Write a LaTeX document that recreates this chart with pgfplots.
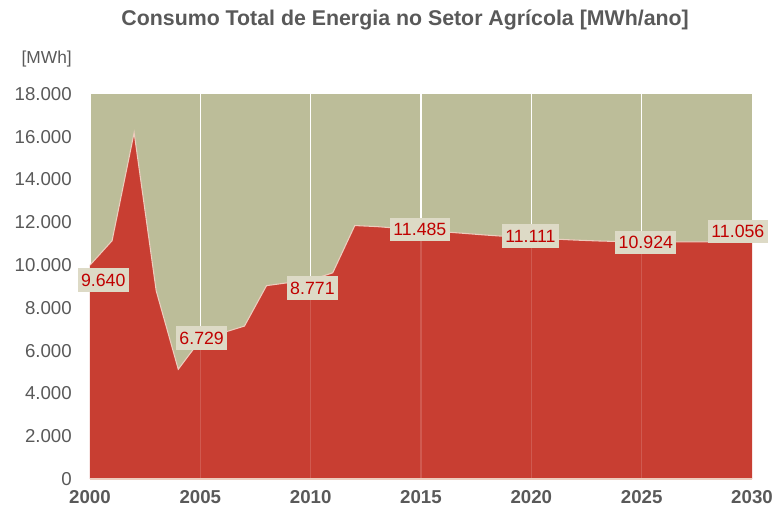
\documentclass[border=0pt]{standalone}
\usepackage{pgfplots}
\pgfplotsset{compat=1.18}
\usepackage{fontspec}
\setmainfont{Liberation Sans}
\definecolor{bgolive}{RGB}{188,189,153}
\definecolor{areared}{RGB}{200,62,50}
\definecolor{lblfill}{RGB}{221,218,198}
\definecolor{lblred}{RGB}{192,0,0}
\definecolor{txtgray}{RGB}{89,89,89}
\definecolor{edgecol}{RGB}{236,205,190}
\begin{document}
\begin{tikzpicture}
\useasboundingbox (-67.5pt,-25.5pt) rectangle (516pt,359.25pt);
\begin{axis}[
  scale only axis, width=496.5pt, height=288.75pt,
  xmin=2000, xmax=2030, ymin=0, ymax=18000,
  scaled y ticks=false, scaled x ticks=false,
  axis background/.style={fill=bgolive},
  axis line style={draw=none},
  major tick length=0pt,
  xtick={2000,2005,2010,2015,2020,2025,2030},
  xticklabels={2000,2005,2010,2015,2020,2025,2030},
  ytick={0,2000,4000,6000,8000,10000,12000,14000,16000,18000},
  yticklabels={0,2.000,4.000,6.000,8.000,10.000,12.000,14.000,16.000,18.000},
  extra x ticks={2000,2005,2010,2015,2020,2025},
  extra x tick labels={},
  extra x tick style={grid=major, major grid style={white, line width=1pt}},
  yticklabel style={font=\fontsize{14}{16}\selectfont, text=txtgray, anchor=east, inner sep=0pt, xshift=-13.5pt},
  xticklabel style={font=\fontsize{14}{16}\selectfont\bfseries, text=txtgray, anchor=north, inner sep=0pt, yshift=-8.25pt},
  clip=false,
]
\addplot[fill=areared, draw=none] coordinates {
(2000,10000) (2001,11140) (2002,16190) (2003,8800) (2004,5130)
(2005,6500) (2006,6830) (2007,7150) (2008,9040) (2009,9180)
(2010,9300) (2011,9640) (2012,11850) (2013,11800) (2014,11720)
(2015,11640) (2016,11560) (2017,11480) (2018,11400) (2019,11330)
(2020,11270) (2021,11220) (2022,11170) (2023,11130) (2024,11100)
(2025,11080) (2026,11080) (2027,11085) (2028,11090) (2029,11095)
(2030,11100)
} \closedcycle;
\addplot[draw=edgecol, line width=0.8pt] coordinates {
(2000,10000) (2001,11140) (2002,16190) (2003,8800) (2004,5130)
(2005,6500) (2006,6830) (2007,7150) (2008,9040) (2009,9180)
(2010,9300) (2011,9640) (2012,11850) (2013,11800) (2014,11720)
(2015,11640) (2016,11560) (2017,11480) (2018,11400) (2019,11330)
(2020,11270) (2021,11220) (2022,11170) (2023,11130) (2024,11100)
(2025,11080) (2026,11080) (2027,11085) (2028,11090) (2029,11095)
(2030,11100)
};
\draw[white, opacity=0.15, line width=1pt] (axis cs:2005,0) -- (axis cs:2005,18000);
\draw[white, opacity=0.15, line width=1pt] (axis cs:2010,0) -- (axis cs:2010,18000);
\draw[white, opacity=0.15, line width=1pt] (axis cs:2015,0) -- (axis cs:2015,18000);
\draw[white, opacity=0.15, line width=1pt] (axis cs:2020,0) -- (axis cs:2020,18000);
\draw[white, opacity=0.15, line width=1pt] (axis cs:2025,0) -- (axis cs:2025,18000);
\draw[edgecol, line width=0.8pt] (axis cs:2000,0) -- (axis cs:2030,0);
\tikzset{lbl/.style={fill=lblfill, text=lblred, font=\fontsize{13.3}{15}\selectfont, inner xsep=2.5pt, inner ysep=0pt, minimum height=17.5pt, anchor=center}}
\node[lbl] at (axis cs:2000.6,9300) {9.640};
\node[lbl] at (axis cs:2005.06,6590) {6.729};
\node[lbl] at (axis cs:2010.08,8930) {8.771};
\node[lbl] at (axis cs:2014.95,11660) {11.485};
\node[lbl] at (axis cs:2019.96,11360) {11.111};
\node[lbl] at (axis cs:2025.19,11060) {10.924};
\node[lbl] at (axis cs:2029.36,11560) {11.056};
\node[anchor=east, inner sep=0pt, text=txtgray, font=\fontsize{13}{15}\selectfont] at ([xshift=-13.5pt,yshift=26.25pt]rel axis cs:0,1) {[MWh]};
\node[anchor=center, inner sep=0pt, text=txtgray, font=\fontsize{16}{19}\selectfont\bfseries] at ([yshift=55.5pt]rel axis cs:0.476,1) {Consumo Total de Energia no Setor Agrícola [MWh/ano]};
\end{axis}
\end{tikzpicture}
\end{document}
